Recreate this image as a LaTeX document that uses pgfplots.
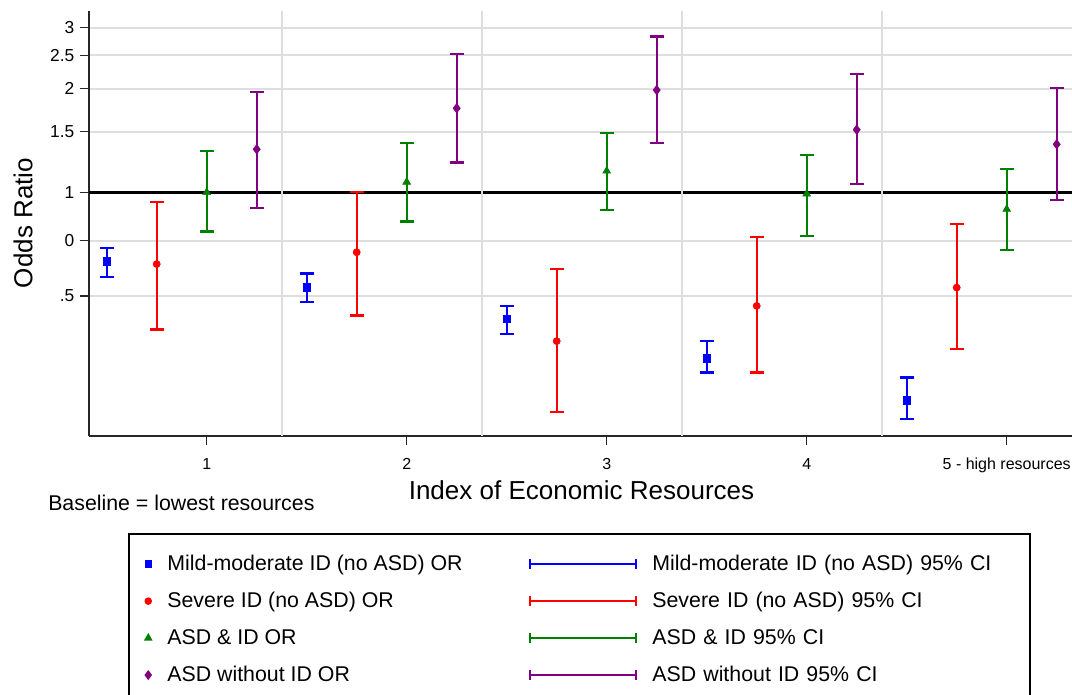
\documentclass[border=0pt]{standalone}
\usepackage{fontspec}
\setmainfont{Liberation Sans}
\usepackage{pgfplots}
\usepackage{pgfplotstable}
\pgfplotsset{compat=1.18}

\definecolor{cblue}{RGB}{0,0,255}
\definecolor{cred}{RGB}{255,0,0}
\definecolor{cgreen}{RGB}{0,128,0}
\definecolor{cpurple}{RGB}{128,0,128}
\definecolor{gridgray}{RGB}{222,222,222}

% x, OR, lower CI, upper CI
\pgfplotstableread{
x    y     lo    hi
0.5  0.631 0.568 0.688
1.5  0.530 0.480 0.581
2.5  0.429 0.389 0.468
3.5  0.330 0.300 0.370
4.5  0.249 0.220 0.290
}\mildtab
\pgfplotstableread{
x    y     lo    hi
0.75 0.619 0.400 0.937
1.75 0.670 0.439 1.000
2.75 0.370 0.230 0.600
3.75 0.468 0.300 0.742
4.75 0.529 0.351 0.808
}\severetab
\pgfplotstableread{
x    y     lo    hi
1    1.000 0.769 1.318
2    1.071 0.822 1.393
3    1.153 0.890 1.489
4    0.990 0.748 1.283
5    0.893 0.680 1.166
}\asdidtab
\pgfplotstableread{
x    y     lo    hi
1.25 1.333 0.900 1.950
2.25 1.753 1.219 2.514
3.25 1.980 1.393 2.830
4.25 1.519 1.055 2.200
5.25 1.378 0.948 2.010
}\asdnoidtab

\pgfplotsset{
  ciplot/.style={
    error bars/y dir=both, error bars/y explicit,
    error bars/error bar style={line width=1.7pt, solid},
    error bars/error mark options={rotate=90, line width=1.7pt, mark size=5.25pt, solid},
  },
  cilegend/.style={legend image code/.code={
    \draw[##1, line width=1.5pt] (0pt,0pt) -- (79.5pt,0pt);
    \draw[##1, line width=1.5pt] (0pt,-3.75pt) -- (0pt,3.75pt) (79.5pt,-3.75pt) -- (79.5pt,3.75pt);
    \path (89.5pt,0pt);
  }},
  mklegend/.style={legend image code/.code={
    \draw[##1] plot coordinates {(10pt,0pt)};
    \path (0pt,0pt) (21.75pt,0pt);
  }},
}

\begin{document}
\begin{tikzpicture}
\begin{axis}[
  name=ax,
  at={(0pt,0pt)}, anchor=south west,
  scale only axis,
  width=737.25pt, height=318.75pt,
  xmin=0.4115, xmax=5.3265,
  ymode=log, ymin=0.1963, ymax=3.357,
  axis x line*=bottom, axis y line*=left,
  axis line style={line width=1.1pt, black!85},
  tick align=outside,
  major tick length=7pt,
  tick style={line width=0.9pt, black!85},
  minor y tick num=0,
  xtick={1,2,3,4,5},
  xticklabels={1,2,3,4,5 - high resources},
  ytick={0.5,0.7236,1,1.5,2,2.5,3},
  yticklabels={.5,0,1,1.5,2,2.5,3},
  ymajorgrids,
  grid style={line width=1.5pt, gridgray},
  xticklabel style={font=\fontsize{12}{14}\selectfont, yshift=-6pt},
  yticklabel style={font=\fontsize{13}{15}\selectfont, xshift=-0.5pt},
  /pgf/number format/assume math mode=true,
  xlabel={Index of Economic Resources},
  ylabel={Odds Ratio},
  label style={font=\fontsize{19.5}{23}\selectfont},
  xlabel style={at={(axis description cs:0.501,0)}, anchor=center, yshift=-40.5pt},
  ylabel style={at={(axis description cs:0,0.501)}, anchor=center, yshift=49.5pt},
  legend columns=2,
  legend cell align=left,
  legend style={
    at={(0,0)}, anchor=north west, xshift=29.25pt, yshift=-72.75pt,
    draw=black, line width=1.2pt,
    font=\fontsize{16}{19}\selectfont,
    row sep=10.85pt,
    inner xsep=4pt, inner ysep=14pt,
    /tikz/every even column/.append style={column sep=47.5pt},
    /tikz/column 4/.append style={text width=277pt},
  },
]
% reference line at OR = 1
\draw[black, line width=2pt] (axis cs:0.4115,1) -- (axis cs:5.3265,1);
% group separators
\foreach \sx in {1.375,2.375,3.375,4.375} {
  \edef\temp{\noexpand\draw[gridgray, line width=1.5pt] (axis cs:\sx,0.1963) -- (axis cs:\sx,3.357);}
  \temp
}

\addplot[cblue, only marks, mark=square*, mark size=2.8pt, ciplot, forget plot]
  table[x=x, y=y, y error plus expr=\thisrow{hi}-\thisrow{y}, y error minus expr=\thisrow{y}-\thisrow{lo}] {\mildtab};
\addplot[cred, only marks, mark=*, mark size=2.7pt, ciplot, forget plot]
  table[x=x, y=y, y error plus expr=\thisrow{hi}-\thisrow{y}, y error minus expr=\thisrow{y}-\thisrow{lo}] {\severetab};
\addplot[cgreen, only marks, mark=triangle*, mark size=3.4pt, ciplot, forget plot]
  table[x=x, y=y, y error plus expr=\thisrow{hi}-\thisrow{y}, y error minus expr=\thisrow{y}-\thisrow{lo}] {\asdidtab};
\addplot[cpurple, only marks, mark=diamond*, mark size=3.6pt, ciplot, forget plot]
  table[x=x, y=y, y error plus expr=\thisrow{hi}-\thisrow{y}, y error minus expr=\thisrow{y}-\thisrow{lo}] {\asdnoidtab};

\addlegendimage{cblue, only marks, mark=square*, mark size=2.2pt, mklegend}
\addlegendentry{Mild-moderate ID (no ASD) OR}
\addlegendimage{cblue, cilegend}
\addlegendentry{Mild-moderate ID (no ASD) 95\% CI}
\addlegendimage{cred, only marks, mark=*, mark size=2.2pt, mklegend}
\addlegendentry{Severe ID (no ASD) OR}
\addlegendimage{cred, cilegend}
\addlegendentry{Severe ID (no ASD) 95\% CI}
\addlegendimage{cgreen, only marks, mark=triangle*, mark size=2.6pt, mklegend}
\addlegendentry{ASD \& ID OR}
\addlegendimage{cgreen, cilegend}
\addlegendentry{ASD \& ID 95\% CI}
\addlegendimage{cpurple, only marks, mark=diamond*, mark size=2.8pt, mklegend}
\addlegendentry{ASD without ID OR}
\addlegendimage{cpurple, cilegend}
\addlegendentry{ASD without ID 95\% CI}
\end{axis}
\node[anchor=west, font=\fontsize{16}{19}\selectfont, inner sep=0pt]
  at ([xshift=-30.75pt, yshift=-50.25pt]ax.south west) {Baseline = lowest resources};
\pgfresetboundingbox
\path[use as bounding box] (-66.75pt,-194.25pt) rectangle (737.25pt,327pt);
\end{tikzpicture}
\end{document}
